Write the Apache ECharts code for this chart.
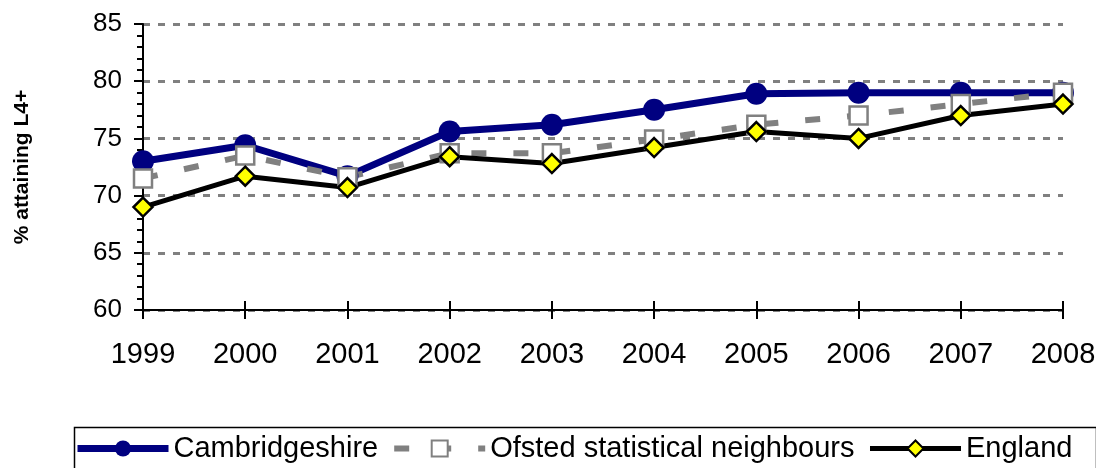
<!DOCTYPE html>
<html>
<head>
<meta charset="utf-8">
<script src="https://cdn.jsdelivr.net/npm/echarts@6/dist/echarts.min.js"></script>
<style>
html, body { margin: 0; padding: 0; background: #fff; }
#chart { width: 1096px; height: 468px; }
</style>
</head>
<body>
<div id="chart"></div>
<script>
// years on the x axis
var years = ["1999", "2000", "2001", "2002", "2003", "2004", "2005", "2006", "2007", "2008"];
// % attaining L4+
var cambridgeshire = [73.0, 74.4, 71.7, 75.6, 76.2, 77.5, 78.9, 79.0, 79.0, 79.0];
var neighbours = [71.5, 73.5, 71.6, 73.7, 73.7, 74.9, 76.2, 77.0, 78.0, 79.0];
var england = [69.0, 71.7, 70.7, 73.4, 72.8, 74.2, 75.6, 75.0, 77.0, 78.0];

var font = "'Liberation Sans', Arial, sans-serif";
var myChart = echarts.init(document.getElementById("chart"));

myChart.setOption({
  animation: false,
  backgroundColor: "#fff",
  grid: { left: 143, right: 33, top: 24, bottom: 158, outerBoundsMode: "none" },
  legend: {
    left: 69,
    top: 429,
    itemWidth: 91,
    itemHeight: 20,
    itemGap: 13,
    textStyle: { fontFamily: font, fontSize: 29, color: "#000" },
    data: [
      { name: "Cambridgeshire", lineStyle: { width: 7 } },
      { name: "Ofsted statistical neighbours", lineStyle: { width: 6 } },
      { name: "England", lineStyle: { width: 5 } }
    ]
  },
  // legend frame
  graphic: [{
    type: "rect",
    left: 72, top: 425,
    shape: { width: 1022, height: 60 },
    style: { fill: "none", stroke: "#000", lineWidth: 1.5 }
  }],
  xAxis: [{
    type: "category",
    data: years,
    boundaryGap: false,
    axisLine: { lineStyle: { color: "#000", width: 2 } },
    axisTick: { length: 9, lineStyle: { color: "#000", width: 2 } },
    axisLabel: { fontFamily: font, fontSize: 29, color: "#000", margin: 30 },
    splitLine: { show: false }
  }, {
    // second axis only for the inner half of the crossing ticks
    type: "category",
    data: years,
    boundaryGap: false,
    position: "bottom",
    axisLine: { show: false },
    axisTick: { inside: true, length: 9, lineStyle: { color: "#000", width: 2 } },
    axisLabel: { show: false },
    splitLine: { show: false }
  }],
  yAxis: {
    type: "value",
    min: 60,
    max: 85,
    interval: 5,
    name: "% attaining L4+",
    nameLocation: "middle",
    nameGap: 110,
    nameRotate: 90,
    nameTextStyle: { fontFamily: font, fontSize: 21, fontWeight: "bold", color: "#000" },
    axisLine: { show: true, lineStyle: { color: "#000", width: 2 } },
    axisTick: { show: true, length: 9, lineStyle: { color: "#000", width: 2 } },
    minorTick: { show: true, splitNumber: 5, length: 6, lineStyle: { color: "#000", width: 2 } },
    axisLabel: { fontFamily: font, fontSize: 26, color: "#000", margin: 21 },
    splitLine: { show: true, lineStyle: { color: "#808080", width: 3, type: [7, 8] } }
  },
  series: [
    {
      name: "Cambridgeshire",
      type: "line",
      data: cambridgeshire,
      symbol: "circle",
      symbolSize: 22,
      color: "#000080",
      lineStyle: { color: "#000080", width: 7 },
      itemStyle: { color: "#000080" }
    },
    {
      name: "Ofsted statistical neighbours",
      type: "line",
      data: neighbours,
      symbol: "rect",
      symbolSize: 18,
      color: "#808080",
      lineStyle: { color: "#808080", width: 6, type: [15, 27] },
      itemStyle: { color: "#fff", borderColor: "#808080", borderWidth: 2.5 }
    },
    {
      name: "England",
      type: "line",
      data: england,
      symbol: "diamond",
      symbolSize: 19,
      color: "#000",
      lineStyle: { color: "#000", width: 5 },
      itemStyle: { color: "#ffff00", borderColor: "#000", borderWidth: 2.5 }
    }
  ]
});
</script>
</body>
</html>
